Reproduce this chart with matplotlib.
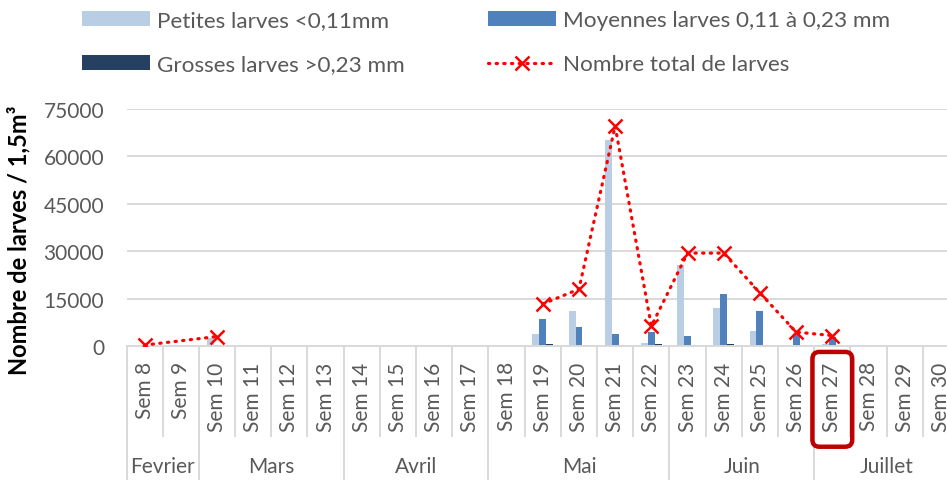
import numpy as np
import matplotlib
matplotlib.use("Agg")
import matplotlib.pyplot as plt
from matplotlib.patches import Patch, FancyBboxPatch
from matplotlib.lines import Line2D
from matplotlib.transforms import blended_transform_factory, IdentityTransform

plt.rcParams['font.family'] = ['Lato', 'DejaVu Sans']

# Donnees
semaines = ['Sem %d' % s for s in range(8, 31)]
mois = (['Fevrier'] * 2 + ['Mars'] * 4 + ['Avril'] * 4 + ['Mai'] * 5
        + ['Juin'] * 4 + ['Juillet'] * 4)

petites = [0, 0, 2500, 0, 0, 0, 0, 0, 0, 0, 0, 3800, 11000, 65200, 900,
           25600, 12000, 4800, 400, 500, 0, 0, 0]
moyennes = [0, 0, 300, 0, 0, 0, 0, 0, 0, 0, 0, 8500, 6000, 3800, 4400,
            3200, 16500, 11000, 3800, 2800, 0, 0, 0]
grosses = [0, 0, 0, 0, 0, 0, 0, 0, 0, 0, 0, 600, 200, 300, 600,
           200, 600, 300, 100, 0, 0, 0, 0]
total = [300, None, 3000, None, None, None, None, None, None, None, None,
         13300, 18000, 69600, 6300, 29400, 29400, 16800, 4400, 3300,
         None, None, None]

c_pet = '#B9CDE5'
c_moy = '#4F81BD'
c_gro = '#254061'
c_tot = '#FF0000'
gris = '#595959'
grille = '#D9D9D9'

W, H = 947, 481
fig = plt.figure(figsize=(W / 100, H / 100), dpi=100)
ax = fig.add_axes([126.5 / W, (H - 347) / H, 832.5 / W, 237 / H])

x = np.arange(len(semaines))
bw = 0.19
ax.bar(x - bw, petites, bw, color=c_pet, zorder=2)
ax.bar(x, moyennes, bw, color=c_moy, zorder=2)
ax.bar(x + bw, grosses, bw, color=c_gro, zorder=2)

# courbe du total: Excel relie Sem 8 a Sem 10 mais pas Sem 10 a Sem 19
valides = [i for i, v in enumerate(total) if v is not None]
segments = [[valides[0]]]
for i in valides[1:]:
    if i - segments[-1][-1] > 2:
        segments.append([i])
    else:
        segments[-1].append(i)
for seg in segments:
    ax.plot(seg, [total[i] for i in seg], color=c_tot, lw=2.3,
            linestyle=(0, (0.4, 2.0)), dash_capstyle='round',
            marker='x', ms=10, mew=1.8, zorder=3)

ax.set_xlim(-0.5, len(semaines) - 0.5)
ax.set_ylim(0, 75000)
ax.set_yticks(range(0, 75001, 15000))
ax.set_xticks(x, labels=semaines, rotation=90, va='top', ha='center')
ax.tick_params(axis='x', length=0, pad=11, labelsize=15, labelcolor=gris)
ax.tick_params(axis='y', length=0, pad=16, labelsize=15, labelcolor=gris)
ax.yaxis.grid(True, color=grille, lw=1.4)
ax.set_axisbelow(True)
for s in ['top', 'right', 'left']:
    ax.spines[s].set_visible(False)
ax.spines['bottom'].set_color(grille)
ax.spines['bottom'].set_linewidth(1.4)

ax.set_ylabel('Nombre de larves / 1,5m³', fontsize=17, fontweight='bold',
              color='black')
ax.yaxis.set_label_coords(-0.115, 0.45)

# axe a deux niveaux: separateurs semaines et mois
trans = blended_transform_factory(ax.transData, ax.transAxes)
debuts = [i for i in range(len(mois)) if i == 0 or mois[i] != mois[i - 1]]
for b in range(len(semaines) + 1):
    y1 = -0.6 if (b in debuts or b == len(semaines)) else -0.38
    ax.plot([b - 0.5, b - 0.5], [0, y1], transform=trans, color=grille,
            lw=1.4, clip_on=False)
for k, d in enumerate(debuts):
    f = debuts[k + 1] if k + 1 < len(debuts) else len(mois)
    ax.text((d + f - 1) / 2, -0.506, mois[d], transform=trans, ha='center',
            va='center', fontsize=15, color=gris)

# encadre rouge autour de Sem 27
fig.canvas.draw()
i27 = semaines.index('Sem 27')
x0, y0 = trans.transform((i27 - 0.55, -0.425))
x1, y1 = trans.transform((i27 + 0.55, -0.025))
fig.add_artist(FancyBboxPatch((x0, y0), x1 - x0, y1 - y0,
                              boxstyle='round,pad=0,rounding_size=7',
                              transform=IdentityTransform(), fill=False,
                              edgecolor='#C00000', lw=3.2))

h_pet = Patch(facecolor=c_pet)
h_moy = Patch(facecolor=c_moy)
h_gro = Patch(facecolor=c_gro)
h_tot = Line2D([], [], color=c_tot, lw=2.3, linestyle=(0, (0.4, 2.0)),
               dash_capstyle='round', marker='x', ms=10, mew=1.8)
fig.legend([h_pet, h_gro, h_moy, h_tot],
           ['Petites larves <0,11mm', 'Grosses larves >0,23 mm',
            'Moyennes larves 0,11 à 0,23 mm', 'Nombre total de larves'],
           ncol=2, loc='upper left', bbox_to_anchor=(82 / W, 1 - 11 / H),
           frameon=False, fontsize=16.2, handlelength=3.02, handleheight=0.66,
           handletextpad=0.31, columnspacing=3.7, labelspacing=1.08,
           borderpad=0, borderaxespad=0, labelcolor=gris)

fig.savefig('out.png', dpi=100)
